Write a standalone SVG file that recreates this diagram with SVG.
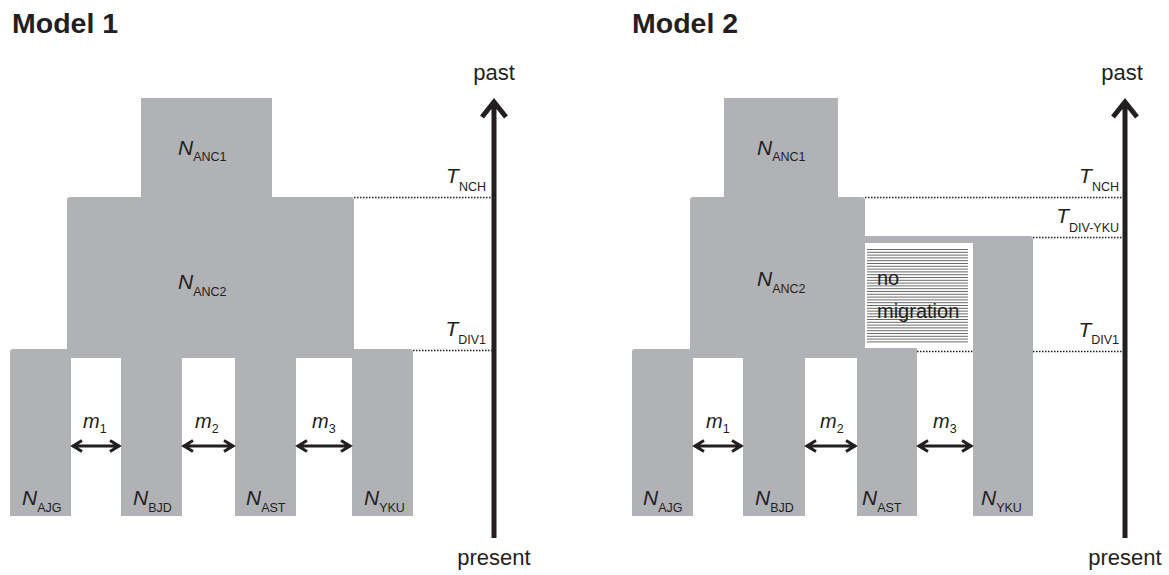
<svg xmlns="http://www.w3.org/2000/svg" width="1169" height="575" viewBox="0 0 1169 575">
<defs>
<style>
.box{fill:#b1b2b5;stroke:none}
.t{font-family:"Liberation Sans",Arial,sans-serif;fill:#231f20}
.title{font-size:28.5px;font-weight:bold}
.big{font-size:21px;font-style:italic}
.sub{font-size:12.5px;font-style:normal}
.m{font-size:20px;font-style:italic}
.lbl{font-size:22px}
.nm{font-size:20px}
.dot{stroke:#231f20;stroke-width:1.5;stroke-dasharray:1.5 1.5;fill:none}
.ax{stroke:#231f20;stroke-width:5;fill:none}
.mig{stroke:#231f20;stroke-width:3;fill:none}
.hatch{stroke:#58595b;stroke-width:0.9;fill:none}
</style>
</defs>
<rect width="1169" height="575" fill="#ffffff"/>
<text class="t title" x="12" y="33">Model 1</text>
<text class="t title" x="632" y="33">Model 2</text>

<!-- Model 1 nodes -->
<g id="m1-anc1"><rect class="box" x="141" y="98" width="131" height="102"/>
<text class="t big" x="178" y="155">N<tspan class="sub" dy="6">ANC1</tspan></text></g>
<g id="m1-anc2"><path class="box" d="M67,358V200Q67,197 70,197H351Q354,197 354,200V358Z"/>
<text class="t big" x="178" y="289">N<tspan class="sub" dy="7">ANC2</tspan></text></g>
<g id="m1-ajg"><path class="box" d="M10,516V352Q10,349 13,349H71V516Z"/>
<text class="t big" x="22" y="505">N<tspan class="sub" dy="7">AJG</tspan></text></g>
<g id="m1-bjd"><rect class="box" x="121" y="350" width="61" height="166"/>
<text class="t big" x="133" y="505">N<tspan class="sub" dy="7">BJD</tspan></text></g>
<g id="m1-ast"><rect class="box" x="235" y="350" width="61" height="166"/>
<text class="t big" x="246" y="505">N<tspan class="sub" dy="7">AST</tspan></text></g>
<g id="m1-yku"><path class="box" d="M352,516V349H410Q413,349 413,352V516Z"/>
<text class="t big" x="364" y="505">N<tspan class="sub" dy="7">YKU</tspan></text></g>

<!-- Model 2 nodes -->
<g id="m2-anc1"><rect class="box" x="724" y="98" width="114" height="102"/>
<text class="t big" x="757" y="155">N<tspan class="sub" dy="6">ANC1</tspan></text></g>
<g id="m2-anc2"><path class="box" d="M690,358V200Q690,197 693,197H862Q865,197 865,200V358Z"/>
<text class="t big" x="757" y="286">N<tspan class="sub" dy="7">ANC2</tspan></text></g>
<g id="m2-ajg"><path class="box" d="M632,516V352Q632,349 635,349H693V516Z"/>
<text class="t big" x="643" y="505">N<tspan class="sub" dy="7">AJG</tspan></text></g>
<g id="m2-bjd"><rect class="box" x="743" y="350" width="62" height="166"/>
<text class="t big" x="755" y="505">N<tspan class="sub" dy="7">BJD</tspan></text></g>
<g id="m2-ast"><rect class="box" x="857" y="348" width="60" height="168"/>
<text class="t big" x="862" y="505">N<tspan class="sub" dy="7">AST</tspan></text></g>
<g id="m2-yku"><path class="box" d="M865,348V236H1030Q1033,236 1033,239V516H973V348Z"/>
<text class="t big" x="981" y="505">N<tspan class="sub" dy="7">YKU</tspan></text></g>
<g id="m2-nomig"><rect x="865" y="243" width="108" height="105" fill="#ffffff"/>
<path class="hatch" d="M867,249.5H968M867,252.3H968M867,255.1H968M867,257.9H968M867,260.7H968M867,263.5H968M867,266.3H968M867,269.1H968M867,271.9H968M867,274.7H968M867,277.5H968M867,280.3H968M867,283.1H968M867,285.9H968M867,288.7H968M867,291.5H968M867,294.3H968M867,297.1H968M867,299.9H968M867,302.7H968M867,305.5H968M867,308.3H968M867,311.1H968M867,313.9H968M867,316.7H968M867,319.5H968M867,322.3H968M867,325.1H968M867,327.9H968M867,330.7H968M867,333.5H968M867,336.3H968M867,339.1H968M867,341.9H968"/>
<text class="t nm" x="877" y="285">no</text>
<text class="t nm" x="877" y="318">migration</text></g>

<!-- connectors -->
<g id="connectors">
<path class="dot" d="M354,197.5H492M413,350.5H492"/>
<path class="dot" d="M865,197.5H1123M1033,237.5H1123M917,351.5H973M1033,351.5H1123"/>
<path class="ax" d="M494,538V103M482,117L494,102L506,117"/>
<path class="ax" d="M1125,538V103M1113,117L1125,102L1137,117"/>
<path class="mig" d="M72,446H120M82,440.5L73,446L82,451.5M110,440.5L119,446L110,451.5"/>
<path class="mig" d="M183,446H234M193,440.5L184,446L193,451.5M224,440.5L233,446L224,451.5"/>
<path class="mig" d="M297,446H351M307,440.5L298,446L307,451.5M341,440.5L350,446L341,451.5"/>
<path class="mig" d="M694,446H742M704,440.5L695,446L704,451.5M732,440.5L741,446L732,451.5"/>
<path class="mig" d="M806,446H856M816,440.5L807,446L816,451.5M846,440.5L855,446L846,451.5"/>
<path class="mig" d="M918,446H972M928,440.5L919,446L928,451.5M962,440.5L971,446L962,451.5"/>
</g>

<!-- axis labels -->
<text class="t lbl" x="494" y="80" text-anchor="middle">past</text>
<text class="t lbl" x="494" y="565" text-anchor="middle">present</text>
<text class="t lbl" x="1122" y="80" text-anchor="middle">past</text>
<text class="t lbl" x="1125" y="565" text-anchor="middle">present</text>
<text class="t big" x="486" y="183" text-anchor="end">T<tspan class="sub" dy="8">NCH</tspan></text>
<text class="t big" x="486" y="336" text-anchor="end">T<tspan class="sub" dy="8">DIV1</tspan></text>
<text class="t big" x="1119" y="183" text-anchor="end">T<tspan class="sub" dy="8">NCH</tspan></text>
<text class="t big" x="1119" y="223" text-anchor="end">T<tspan class="sub" dy="9">DIV-YKU</tspan></text>
<text class="t big" x="1119" y="337" text-anchor="end">T<tspan class="sub" dy="7">DIV1</tspan></text>
<text class="t m" x="83" y="428">m<tspan class="sub" dy="5">1</tspan></text>
<text class="t m" x="195" y="428">m<tspan class="sub" dy="5">2</tspan></text>
<text class="t m" x="312" y="428">m<tspan class="sub" dy="5">3</tspan></text>
<text class="t m" x="706" y="428">m<tspan class="sub" dy="5">1</tspan></text>
<text class="t m" x="820" y="428">m<tspan class="sub" dy="5">2</tspan></text>
<text class="t m" x="933" y="428">m<tspan class="sub" dy="5">3</tspan></text>
</svg>
